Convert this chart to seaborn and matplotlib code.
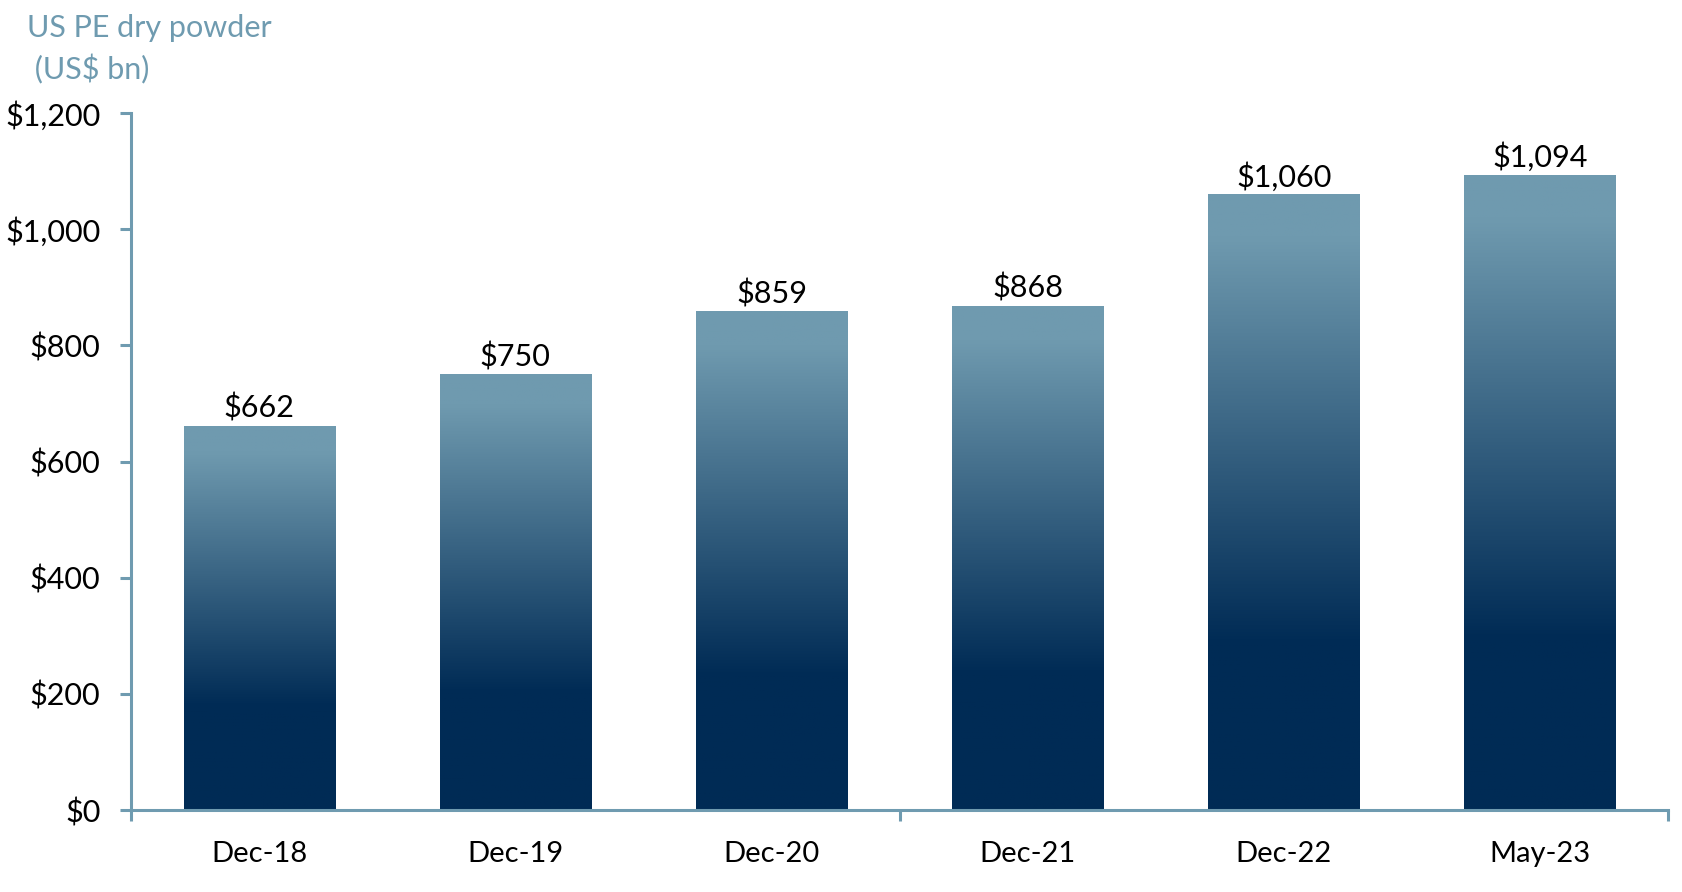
import numpy as np
import pandas as pd
import matplotlib
matplotlib.use("Agg")
import matplotlib.pyplot as plt
import seaborn as sns
from matplotlib.colors import LinearSegmentedColormap

categories = ["Dec-18", "Dec-19", "Dec-20", "Dec-21", "Dec-22", "May-23"]
values = [662, 750, 859, 868, 1060, 1094]
yticks = [0, 200, 400, 600, 800, 1000, 1200]
title_text = "US PE dry powder\n (US$ bn)"

LIGHT = "#6f9aaf"
DARK = "#002b55"
AXIS = "#6f9bb0"

sns.set_theme(style="white")
plt.rcParams["font.family"] = ["Lato", "DejaVu Sans"]

fig = plt.figure(figsize=(16.82, 8.92), dpi=100)
ax = fig.add_axes([0.0779, 0.0919, 0.9138, 0.7814])

df = pd.DataFrame({"cat": categories, "val": values})
sns.barplot(data=df, x="cat", y="val", color=LIGHT, width=0.59, ax=ax, saturation=1)

ax.set_ylim(0, 1200)
ax.set_xlim(-0.5, len(categories) - 0.5)

cmap = LinearSegmentedColormap.from_list(
    "g", [(0.0, LIGHT), (0.07, LIGHT), (0.73, DARK), (1.0, DARK)])
grad = np.linspace(0, 1, 256).reshape(-1, 1)

for p, v in zip(ax.patches, values):
    x0 = p.get_x()
    w = p.get_width()
    h = p.get_height()
    im = ax.imshow(grad, cmap=cmap, aspect="auto",
                   extent=[x0, x0 + w, 0, h], origin="upper", zorder=2)
    im.set_clip_path(p)
    p.set_edgecolor("none")
    ax.text(x0 + w / 2, h + 5, f"${v:,.0f}", ha="center", va="bottom",
            fontsize=22, color="black", zorder=3)

ax.set_xlim(-0.5, len(categories) - 0.5)
ax.set_ylim(0, 1200)

ax.set_yticks(yticks)
ax.set_yticklabels([f"${t:,.0f}" for t in yticks], fontsize=22, color="black")
ax.set_xticks(range(len(categories)))
ax.set_xticklabels(categories, fontsize=21, color="black")
ax.set_xlabel("")
ax.set_ylabel("")

for s in ["top", "right"]:
    ax.spines[s].set_visible(False)
for s in ["left", "bottom"]:
    ax.spines[s].set_color(AXIS)
    ax.spines[s].set_linewidth(2.2)
    ax.spines[s].set_zorder(4)

ax.tick_params(axis="y", which="major", length=8, width=2.2, color=AXIS,
               direction="out", pad=14, left=True)
ax.tick_params(axis="x", which="major", length=0, pad=22, bottom=True)

# minor x ticks at category boundaries every 3 categories
ax.set_xticks([-0.5, 2.5, 5.5], minor=True)
ax.tick_params(axis="x", which="minor", length=8, width=2.2, color=AXIS,
               direction="out", bottom=True)

fig.text(27 / 1682, 1 - 14 / 892, title_text, ha="left", va="top",
         fontsize=22, color=AXIS, linespacing=1.5)

fig.savefig("out.png", dpi=100, facecolor="white")
